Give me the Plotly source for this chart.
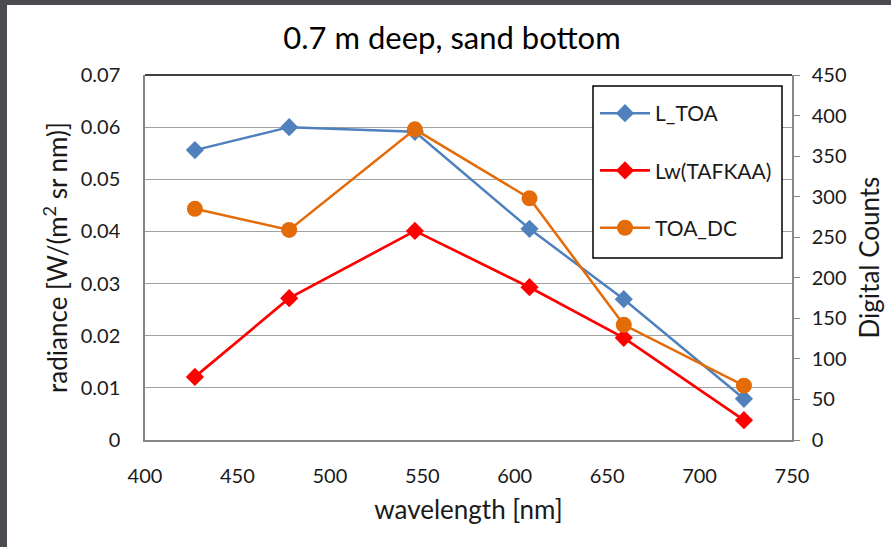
import plotly.graph_objects as go

wavelength = [427, 478, 546, 608, 659, 724]
l_toa = [0.0556, 0.0600, 0.0591, 0.0405, 0.0270, 0.0079]
lw_tafkaa = [0.0121, 0.0272, 0.0401, 0.0293, 0.0196, 0.0038]
toa_dc = [285, 259, 383, 298, 142, 67]

FONT = "Lato, Carlito, Calibri, sans-serif"
TXT = "#1a1a1a"

fig = go.Figure()
fig.add_trace(go.Scatter(x=wavelength, y=l_toa, name="L_TOA", mode="lines+markers",
                         line=dict(color="#4f81bd", width=2.5),
                         marker=dict(symbol="diamond", size=14, color="#4f81bd"),
                         legendgroup="a"))
fig.add_trace(go.Scatter(x=wavelength, y=lw_tafkaa, name="Lw(TAFKAA)", mode="lines+markers",
                         line=dict(color="#ff0000", width=2.7),
                         marker=dict(symbol="diamond", size=14, color="#ff0000"),
                         legendgroup="b"))
fig.add_trace(go.Scatter(x=wavelength, y=toa_dc, name="TOA_DC", mode="lines+markers",
                         line=dict(color="#e36c09", width=2.5),
                         marker=dict(symbol="circle", size=16, color="#e36c09"),
                         yaxis="y2", legendgroup="c"))

W, H = 891, 547
L, R, T, B = 145, 99, 75, 107
pw, ph = W - L - R, H - T - B

def px(x):
    return (x - L) / pw

def py(y):
    return (H - B - y) / ph

fig.update_layout(
    width=W, height=H,
    margin=dict(l=L, r=R, t=T, b=B, autoexpand=False),
    paper_bgcolor="#4b4b50",
    plot_bgcolor="white",
    font=dict(family=FONT, size=20, color=TXT),
    title=dict(text="0.7 m deep, sand bottom", x=px(452), xanchor="center", xref="paper",
               y=1 - 38 / H, yanchor="middle", font=dict(size=31, color="#000000")),
    xaxis=dict(range=[400, 750], dtick=50, tick0=400, showgrid=False,
               showline=True, linecolor="#868686", linewidth=1.5, ticks="",
               ticklabelstandoff=17, zeroline=False,
               title=dict(text="wavelength [nm]", font=dict(size=26), standoff=15)),
    yaxis=dict(range=[0, 0.07], dtick=0.01, tickformat=".2~f",
               showgrid=True, gridcolor="#a0a0a0", gridwidth=1.3,
               showline=True, linecolor="#868686", linewidth=1.5, ticks="",
               zeroline=False, ticklabelstandoff=19,
               title=dict(text="radiance [W/(m<sup>2</sup> sr nm)]", font=dict(size=26), standoff=6)),
    yaxis2=dict(range=[0, 450], dtick=50, overlaying="y", side="right",
                showgrid=False, showline=True, linecolor="#868686", linewidth=1.5,
                ticks="outside", ticklen=6, tickcolor="#868686", zeroline=False,
                ticklabelstandoff=8,
                title=dict(text="Digital Counts", font=dict(size=26), standoff=15)),
    legend=dict(x=px(595), y=py(93), xanchor="left", yanchor="top",
                bgcolor="rgba(0,0,0,0)", borderwidth=0,
                font=dict(size=21, color=TXT), tracegroupgap=27, itemwidth=50,
                traceorder="grouped"),
    showlegend=True,
    shapes=[
        dict(type="rect", xref="paper", yref="paper", x0=px(7), x1=px(W + 5),
             y0=py(H + 5), y1=py(5), fillcolor="white", line=dict(width=0), layer="below"),
        dict(type="line", xref="paper", yref="paper", x0=0, x1=1, y0=1, y1=1,
             line=dict(color="#000000", width=1.5)),
        dict(type="rect", xref="paper", yref="paper", x0=px(593), x1=px(782),
             y0=py(258), y1=py(86), fillcolor="white",
             line=dict(color="#000000", width=1.5), layer="above"),
    ],
)

fig.write_html("out.html")
